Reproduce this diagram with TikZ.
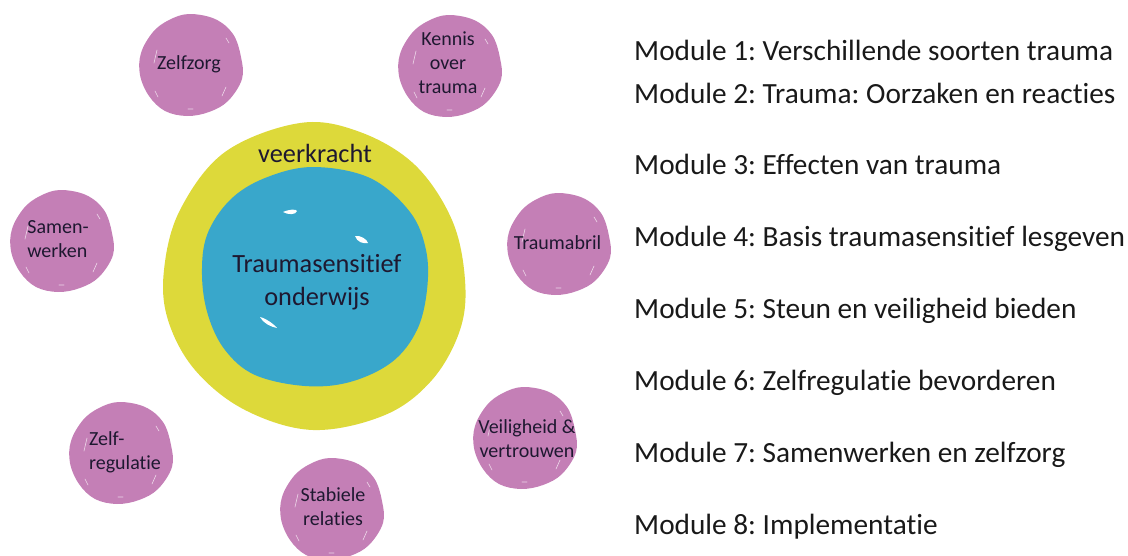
\documentclass[tikz,border=0pt]{standalone}
\usepackage{fontspec}
\setmainfont[Ligatures=NoCommon]{Carlito}
\usetikzlibrary{calc}
\definecolor{bubblecol}{HTML}{C47FB6}
\definecolor{ringcol}{HTML}{DDD93A}
\definecolor{corecol}{HTML}{39A7CB}
\definecolor{inkcol}{HTML}{1E1830}
\newcommand{\bubble}[5]{%
 \begin{scope}[shift={(#1,#2)}]
  \fill[bubblecol] plot[smooth cycle,tension=.6] coordinates {(-2,-51)(24,-46)(42,-31)(50,-8)(51,14)(37,36)(18,47)(-4,51)(-26,46)(-42,31)(-51,10)(-50,-12)(-38,-33)(-22,-45)};
  \draw[white,line width=.6pt,opacity=.7,line cap=round] (35,-27)--(38,-22) (35,22)--(31,31) (-34,-15)--(-37,-2) (-36,26)--(-33,32) (-3,44)--(2,44);
  \node[bubbletext,#3] (#4) at (0,0) {#5};
 \end{scope}}
\tikzset{
 bubbletext/.style={text=inkcol,font=\frenchspacing\fontsize{20}{24}\selectfont,align=center,inner sep=0pt},
 moduletext/.style={anchor=base west,text=black!90,font=\frenchspacing\fontsize{29.3}{32}\selectfont,inner sep=0pt},
 corelabel/.style={text=inkcol,font=\fontsize{26.3}{33}\selectfont,align=center,inner sep=0pt},
 gleam/.style={fill=white,draw=none}
}
\begin{document}
\begin{tikzpicture}[x=1pt,y=-1pt]
\useasboundingbox (0,0) rectangle (1128,555);
\clip (0,0) rectangle (1128,555);
\fill[ringcol] plot[smooth cycle,tension=.6] coordinates {(300,123)(360,132)(415,165)(452,220)(465,280)(460,330)(432,380)(385,415)(313,430)(245,410)(195,370)(168,320)(164,270)(180,210)(225,152)};
\fill[corecol] plot[smooth cycle,tension=.6] coordinates {(313,167)(370,178)(410,212)(426,250)(427,290)(417,330)(392,362)(350,382)(305,386)(255,375)(225,350)(208,315)(202,275)(207,235)(230,200)(265,178)};
\fill[gleam] (283,212) .. controls (290,209) and (296,209) .. (297,211) .. controls (296,215) and (288,215) .. (283,212);
\fill[gleam] (355,236) .. controls (360,235) and (367,239) .. (368,243) .. controls (363,244) and (357,242) .. (355,236);
\fill[gleam] (260,317) .. controls (265,318) and (274,324) .. (277,328) .. controls (271,327) and (263,323) .. (260,317);
\node[text=inkcol,font=\fontsize{26.3}{30}\selectfont,inner sep=0pt] (ring) at (315,153) {veerkracht};
\node[corelabel] (core) at (317,282) {Traumasensitief\\onderwijs};
\bubble{191}{65}{xshift=-2pt,yshift=1pt}{zelfzorg}{Zelfzorg}
\bubble{450}{66}{xshift=-2pt,yshift=3pt}{kennis}{Kennis\\over\\trauma}
\bubble{62}{241}{align=left,xshift=-4pt,yshift=2pt}{samen}{Samen-\\werken}
\bubble{559}{244}{xshift=-1.5pt,yshift=1pt}{bril}{Traumabril}
\bubble{121}{453}{align=left,xshift=4pt,yshift=1pt}{zelfreg}{Zelf-\\regulatie}
\bubble{525}{438}{xshift=2pt,yshift=-1pt}{veilig}{Veiligheid \&\\vertrouwen}
\bubble{332}{509}{xshift=1pt,yshift=2pt}{stabiel}{Stabiele\\relaties}
\node[moduletext] (m1) at (634,60) {Module 1: Verschillende soorten trauma};
\node[moduletext] (m2) at (634,103) {Module 2: Trauma: Oorzaken en reacties};
\node[moduletext] (m3) at (634,174) {Module 3: Effecten van trauma};
\node[moduletext] (m4) at (634,246) {Module 4: Basis traumasensitief lesgeven};
\node[moduletext] (m5) at (634,318) {Module 5: Steun en veiligheid bieden};
\node[moduletext] (m6) at (634,390) {Module 6: Zelfregulatie bevorderen};
\node[moduletext] (m7) at (634,462) {Module 7: Samenwerken en zelfzorg};
\node[moduletext] (m8) at (634,534) {Module 8: Implementatie};
\end{tikzpicture}
\end{document}
